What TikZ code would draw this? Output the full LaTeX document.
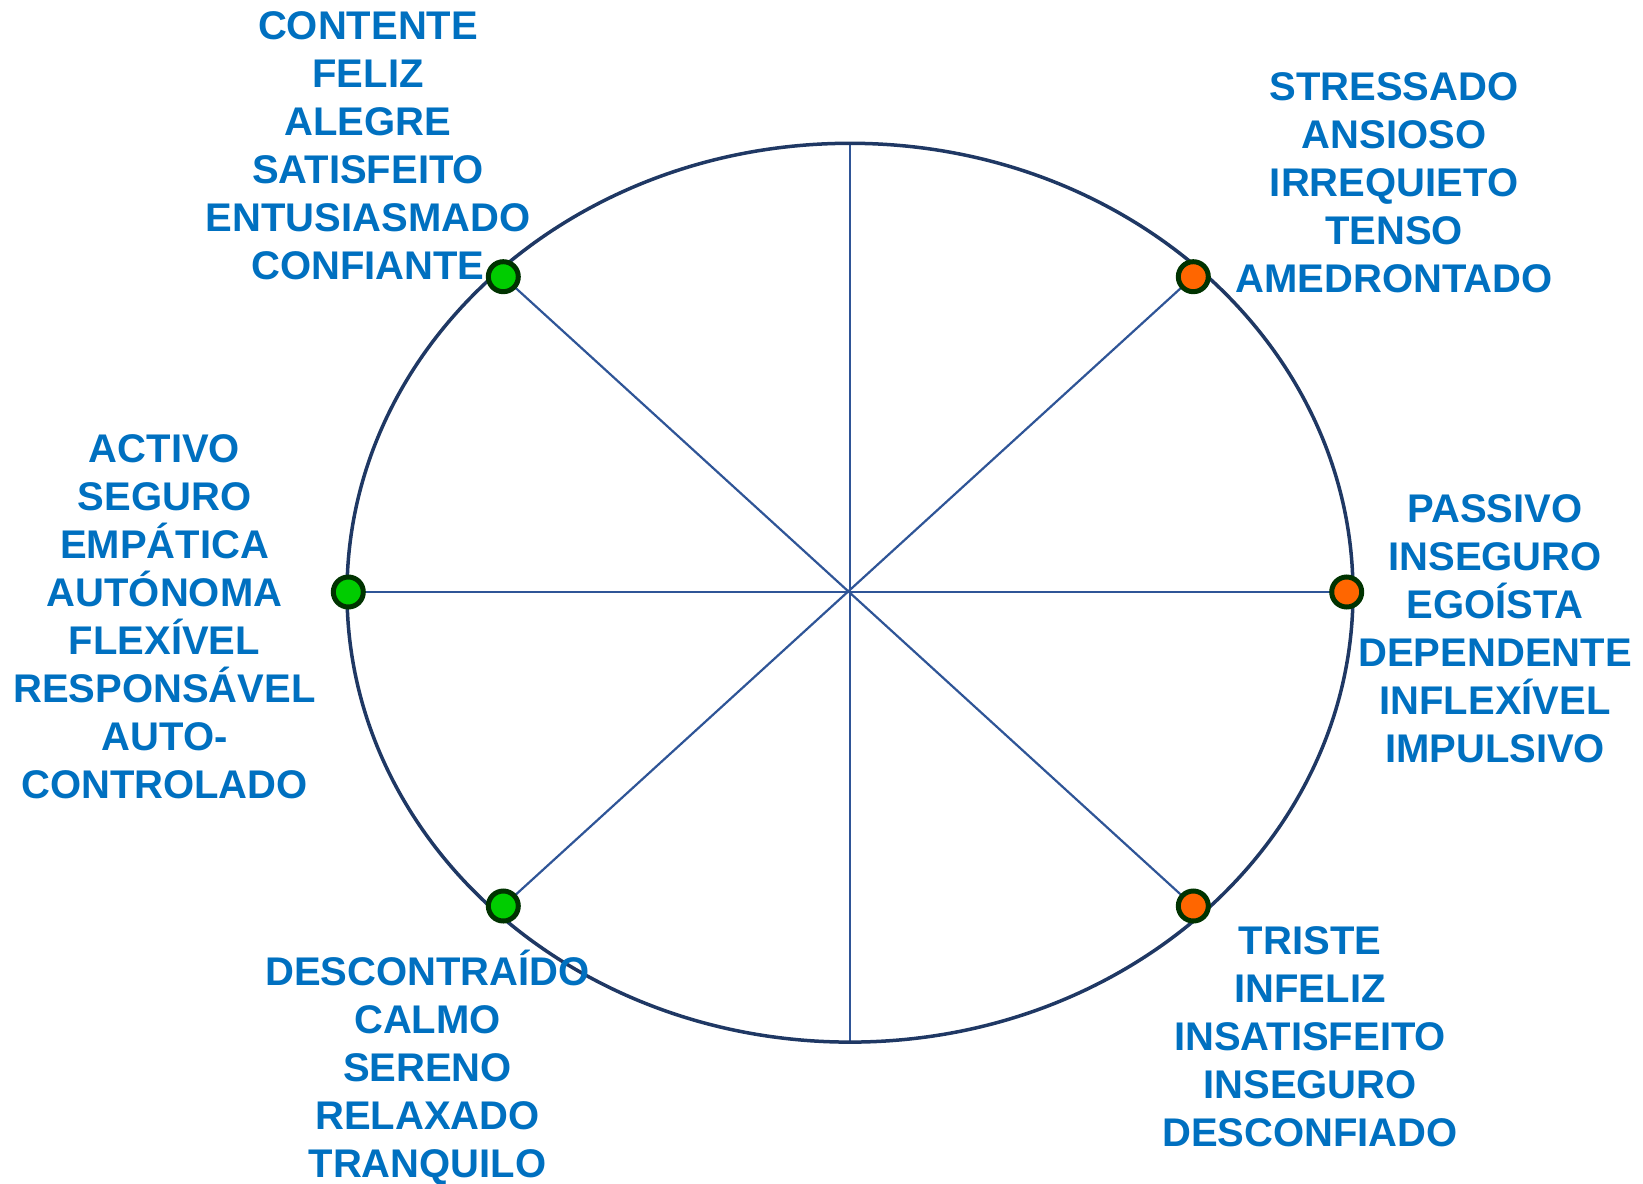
\documentclass[tikz,border=0pt]{standalone}
\usepackage{fontspec}
\setmainfont{Liberation Sans}
\definecolor{wordblue}{HTML}{0070C0}
\definecolor{rimblue}{HTML}{1F3864}
\definecolor{spokeblue}{HTML}{2F5597}
\definecolor{dotrim}{HTML}{003300}
\definecolor{dotgreen}{HTML}{00CC00}
\definecolor{dotorange}{HTML}{FF6600}

\begin{document}
\begin{tikzpicture}[x=1pt,y=-1pt,
        words/.style={text=wordblue,font=\fontsize{40}{48}\selectfont\bfseries,align=center,inner sep=0pt},
        dot/.style={circle,draw=dotrim,line width=5pt,minimum size=30pt,inner sep=0pt},
        spoke/.style={spokeblue,line width=2.2pt}]
        \useasboundingbox (0,0) rectangle (1643,1183);
        \coordinate (O) at (850,592.7);
        \coordinate (top) at (850,143.3);
        \coordinate (bot) at (850,1042);
        \coordinate (pg1) at (503.3,276.7);   % verdes
        \coordinate (pg2) at (348.3,592);
        \coordinate (pg3) at (503.3,906);
        \coordinate (po1) at (1193.3,276.7);  % laranjas
        \coordinate (po2) at (1346.7,592);
        \coordinate (po3) at (1193.3,906);
        \draw[spoke] (top)--(bot);
        \draw[spoke] (pg2)--(po2);
        \draw[spoke] (pg1)--(po3);
        \draw[spoke] (pg3)--(po1);
        \draw[rimblue,line width=3.5pt] (O) ellipse [x radius=503pt,y radius=449.4pt];
        \node[dot,fill=dotgreen] (g1) at (pg1) {};
        \node[dot,fill=dotgreen] (g2) at (pg2) {};
        \node[dot,fill=dotgreen] (g3) at (pg3) {};
        \node[dot,fill=dotorange] (o1) at (po1) {};
        \node[dot,fill=dotorange] (o2) at (po2) {};
        \node[dot,fill=dotorange] (o3) at (po3) {};
        \node[words] (feliz) at (368,146) {CONTENTE\\FELIZ\\ALEGRE\\SATISFEITO\\ENTUSIASMADO\\CONFIANTE};
        \node[words] (tenso) at (1394,182.4) {STRESSADO\\ANSIOSO\\IRREQUIETO\\TENSO\\AMEDRONTADO};
        \node[words] (passivo) at (1495,629) {PASSIVO\\INSEGURO\\EGOÍSTA\\DEPENDENTE\\INFLEXÍVEL\\IMPULSIVO};
        \node[words] (activo) at (164.5,616.4) {ACTIVO\\SEGURO\\EMPÁTICA\\AUTÓNOMA\\FLEXÍVEL\\RESPONSÁVEL\\AUTO-\\CONTROLADO};
        \node[words] (calmo) at (427.5,1067.2) {DESCONTRAÍDO\\CALMO\\SERENO\\RELAXADO\\TRANQUILO};
        \node[words] (triste) at (1310,1037) {TRISTE\\INFELIZ\\INSATISFEITO\\INSEGURO\\DESCONFIADO};
\end{tikzpicture}
\end{document}
